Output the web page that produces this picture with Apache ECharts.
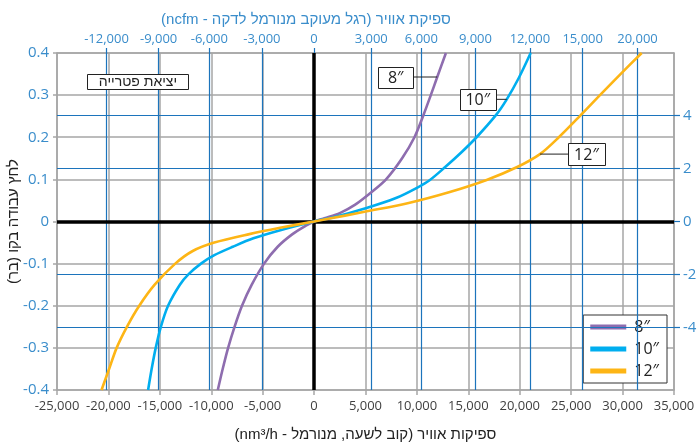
<!DOCTYPE html>
<html>
<head>
<meta charset="utf-8">
<script src="https://cdn.jsdelivr.net/npm/echarts@6/dist/echarts.min.js"></script>
<style>
  html, body { margin: 0; background: #fff; }
  #chart { width: 699px; height: 446px; }
</style>
</head>
<body>
<div id="chart"></div>
<script>
// bidi wrappers so hebrew strings render right-to-left on the canvas
var RLE = '\u202B', PDF = '\u202C';
function heb(s) { return RLE + s + PDF; }

var seriesNames = ['8″', '10″', '12″'];

// air flow (nm3/h) vs line pressure (bar)
var flow8 = [-9362, -8906, -8360, -7735, -7010, -6060, -4860, -3540, -2100, -800, 0, 1000, 2500, 4000, 5600, 7000, 8560, 9760, 10640, 11350, 11976, 12820];
var press8 = [-0.4, -0.352, -0.3, -0.25, -0.2, -0.15, -0.1, -0.06, -0.03, -0.01, 0, 0.008, 0.02, 0.04, 0.07, 0.1, 0.15, 0.2, 0.253, 0.3, 0.343, 0.4];

var flow10 = [-16140, -15810, -15400, -14900, -14200, -13050, -12200, -11000, -9700, -7900, -5900, -3200, 0, 1900, 5100, 7900, 10000, 11265, 12724, 14360, 15800, 17700, 18736, 19890, 21060];
var press10 = [-0.4, -0.352, -0.3, -0.25, -0.2, -0.15, -0.125, -0.1, -0.08, -0.06, -0.04, -0.02, 0, 0.01, 0.032, 0.055, 0.08, 0.0986, 0.1287, 0.165, 0.2, 0.253, 0.29, 0.34, 0.4];

var flow12 = [-20670, -19960, -19200, -18200, -17000, -15500, -13500, -11800, -9700, -6300, -3300, 0, 3000, 4900, 9200, 13200, 16780, 19700, 21965, 23800, 25950, 27800, 29800, 31860];
var press12 = [-0.4, -0.352, -0.3, -0.25, -0.2, -0.15, -0.1, -0.07, -0.05, -0.03, -0.015, 0, 0.014, 0.023, 0.044, 0.07, 0.0986, 0.1287, 0.16, 0.2, 0.253, 0.3, 0.35, 0.4];

// top axis: ncfm labels and where they sit on the nm3/h scale
var ncfmTicks = [-12000, -9000, -6000, -3000, 0, 3000, 6000, 9000, 12000, 15000, 20000];
var ncfmTickPos = [-20185, -15117, -10185, -5078, 0, 5554, 10438, 15691, 20992, 26119, 31449];

// right axis ticks
var rightTicks = [-4, -2, 0, 2, 4];
var rightMax = 6.35;

var flows = [flow8, flow10, flow12];
var pressures = [press8, press10, press12];
var colors = ['#8E6DAF', '#00AEEF', '#FDB515'];

var GRAY = '#A6A6A6';
var BLUE = '#1C74BC';
var LABEL_BLUE = '#3A8DCB';
var NUM_FONT = '"Open Sans", "Liberation Sans", sans-serif';
var HEB_FONT = '"Liberation Sans", "DejaVu Sans", sans-serif';

function thousands(v) {
  return String(v).replace(/\B(?=(\d{3})+(?!\d))/g, ',');
}

function pairs(xs, ys) {
  return xs.map(function (x, i) { return [x, ys[i]]; });
}

var chart = echarts.init(document.getElementById('chart'), null, { renderer: 'canvas' });

var curveSeries = seriesNames.map(function (name, k) {
  return {
    name: name,
    type: 'line',
    xAxisIndex: 0,
    yAxisIndex: 0,
    data: pairs(flows[k], pressures[k]),
    showSymbol: false,
    symbol: 'none',
    smooth: 0.3,
    z: 5,
    lineStyle: { color: colors[k], width: 2.6 },
    itemStyle: { color: colors[k] },
    emphasis: { disabled: true }
  };
});

var option = {
  animation: false,
  backgroundColor: '#fff',
  grid: { left: 57, right: 25, top: 53, bottom: 56, containLabel: false, outerBoundsMode: 'none' },
  legend: {
    data: seriesNames,
    orient: 'vertical',
    right: 32,
    top: 315,
    backgroundColor: '#fff',
    borderColor: '#333',
    borderWidth: 1,
    borderRadius: 0,
    padding: [3, 8, 3, 7],
    itemWidth: 36,
    itemHeight: 5,
    itemGap: 4,
    icon: 'rect',
    selectedMode: false,
    textStyle: { fontSize: 16, color: '#222', lineHeight: 18, fontFamily: NUM_FONT, padding: [0, 0, 0, 3] }
  },
  xAxis: [
    {
      type: 'value',
      position: 'bottom',
      min: -25000,
      max: 35000,
      interval: 5000,
      name: heb('ספיקות אוויר (קוב לשעה, מנורמל - nm³/h)'),
      nameLocation: 'middle',
      nameGap: 37,
      nameMoveOverlap: false,
      nameTextStyle: { fontSize: 15, color: '#222', fontFamily: HEB_FONT },
      axisLine: { show: true, onZero: false, lineStyle: { color: GRAY, width: 1.5 } },
      axisTick: { show: true, length: 5, lineStyle: { color: GRAY, width: 1.5 } },
      axisLabel: {
        margin: 10, fontSize: 13, color: '#404040', fontFamily: NUM_FONT,
        showMinLabel: true, showMaxLabel: true, hideOverlap: false,
        formatter: function (v) { return thousands(v); }
      },
      splitLine: { show: true, lineStyle: { color: GRAY, width: 1.5 } }
    },
    {
      type: 'value',
      position: 'top',
      min: -25000,
      max: 35000,
      axisLine: { show: true, onZero: false, lineStyle: { color: GRAY, width: 1.5 } },
      axisTick: { show: true, length: 5, customValues: ncfmTickPos, lineStyle: { color: BLUE, width: 1.2 } },
      axisLabel: {
        margin: 7, fontSize: 13, color: LABEL_BLUE, fontFamily: NUM_FONT,
        customValues: ncfmTickPos, hideOverlap: false,
        formatter: function (v) {
          var best = 0;
          for (var i = 0; i < ncfmTickPos.length; i++) {
            if (Math.abs(ncfmTickPos[i] - v) < Math.abs(ncfmTickPos[best] - v)) best = i;
          }
          return thousands(ncfmTicks[best]);
        }
      },
      splitLine: { show: false }
    }
  ],
  yAxis: [
    {
      type: 'value',
      position: 'left',
      min: -0.4,
      max: 0.4,
      interval: 0.1,
      name: heb('לחץ עבודה בקו (בר)'),
      nameLocation: 'middle',
      nameGap: 36,
      nameMoveOverlap: false,
      nameRotate: 90,
      nameTextStyle: { fontSize: 15, color: '#222', fontFamily: HEB_FONT },
      axisLine: { show: true, onZero: false, lineStyle: { color: GRAY, width: 1.5 } },
      axisTick: { show: true, length: 4, lineStyle: { color: GRAY, width: 1.5 } },
      axisLabel: {
        margin: 8, fontSize: 15, color: LABEL_BLUE, fontFamily: NUM_FONT,
        showMinLabel: true, showMaxLabel: true,
        formatter: function (v) { return String(Math.round(v * 10) / 10); }
      },
      splitLine: { show: true, lineStyle: { color: GRAY, width: 1.5 } }
    },
    {
      type: 'value',
      position: 'right',
      min: -rightMax,
      max: rightMax,
      axisLine: { show: true, onZero: false, lineStyle: { color: GRAY, width: 1.5 } },
      axisTick: { show: true, length: 6, customValues: rightTicks, lineStyle: { color: BLUE, width: 1.2 } },
      axisLabel: {
        margin: 9, fontSize: 15, color: LABEL_BLUE, fontFamily: NUM_FONT,
        customValues: rightTicks
      },
      splitLine: { show: false }
    }
  ],
  series: [
    {
      type: 'line',
      xAxisIndex: 1,
      yAxisIndex: 0,
      data: [],
      silent: true,
      z: 1,
      markLine: {
        silent: true,
        symbol: 'none',
        animation: false,
        label: { show: false },
        emphasis: { disabled: true },
        lineStyle: { color: BLUE, width: 1.2, type: 'solid' },
        data: ncfmTickPos.filter(function (v) { return v !== 0; }).map(function (v) { return { xAxis: v }; })
      }
    },
    {
      type: 'line',
      xAxisIndex: 0,
      yAxisIndex: 1,
      data: [],
      silent: true,
      z: 1,
      markLine: {
        silent: true,
        symbol: 'none',
        animation: false,
        label: { show: false },
        emphasis: { disabled: true },
        lineStyle: { color: BLUE, width: 1.2, type: 'solid' },
        data: rightTicks.filter(function (v) { return v !== 0; }).map(function (v) { return { yAxis: v }; })
      }
    },
    {
      type: 'line',
      xAxisIndex: 0,
      yAxisIndex: 0,
      data: [],
      silent: true,
      z: 2,
      markLine: {
        silent: true,
        symbol: 'none',
        animation: false,
        label: { show: false },
        emphasis: { disabled: true },
        lineStyle: { color: '#000', width: 3.5, type: 'solid' },
        data: [{ xAxis: 0 }, { yAxis: 0 }]
      }
    }
  ].concat(curveSeries)
};

chart.setOption(option);

// boxed size labels with leader lines pointing at a point on each curve
var notes = [
  { s: 0, i: 20, dx: -24, w: 35, h: 21 },
  { s: 1, i: 22, dx: -11, w: 36, h: 21 },
  { s: 2, i: 18, dx: 28, w: 37, h: 22 }
];
var graphics = [];
notes.forEach(function (n) {
  var pt = chart.convertToPixel({ xAxisIndex: 0, yAxisIndex: 0 }, [flows[n.s][n.i], pressures[n.s][n.i]]);
  var x1 = pt[0] + n.dx;
  var bx = n.dx < 0 ? x1 - n.w : x1;
  graphics.push({
    type: 'line', z: 20, silent: true,
    shape: { x1: pt[0], y1: pt[1], x2: x1, y2: pt[1] },
    style: { stroke: '#222', lineWidth: 1 }
  });
  graphics.push({
    type: 'rect', z: 20, silent: true,
    shape: { x: Math.round(bx) + 0.5, y: Math.round(pt[1] - n.h / 2) + 0.5, width: n.w, height: n.h },
    style: { fill: '#fff', stroke: '#222', lineWidth: 1 }
  });
  graphics.push({
    type: 'text', z: 21, silent: true,
    x: bx + n.w / 2, y: pt[1] + 1,
    style: {
      text: seriesNames[n.s], fontSize: 16, fontFamily: NUM_FONT, fill: '#222',
      align: 'center', verticalAlign: 'middle', textAlign: 'center', textVerticalAlign: 'middle'
    }
  });
});

// "outlet" note box
graphics.push({
  type: 'rect', z: 20, silent: true,
  shape: { x: 87.5, y: 74.5, width: 101, height: 15 },
  style: { fill: '#fff', stroke: '#222', lineWidth: 1 }
});
graphics.push({
  type: 'text', z: 21, silent: true,
  x: 138, y: 82.5,
  style: {
    text: heb('יציאת פטרייה'), fontSize: 14, fontFamily: HEB_FONT, fill: '#222',
    align: 'center', verticalAlign: 'middle', textAlign: 'center', textVerticalAlign: 'middle'
  }
});

// top axis title
graphics.push({
  type: 'text', z: 21, silent: true,
  x: 306, y: 20,
  style: {
    text: heb('ספיקת אוויר (רגל מעוקב מנורמל לדקה - ncfm)'), fontSize: 15, fontFamily: HEB_FONT, fill: LABEL_BLUE,
    align: 'center', verticalAlign: 'middle', textAlign: 'center', textVerticalAlign: 'middle'
  }
});

chart.setOption({ graphic: graphics });
</script>
</body>
</html>
